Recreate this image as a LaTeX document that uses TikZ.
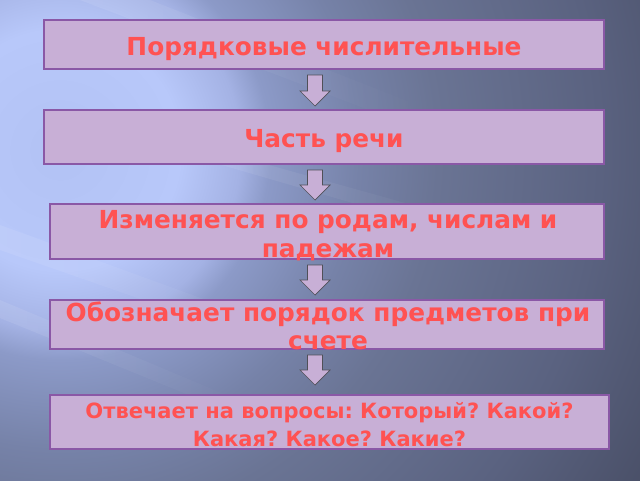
\documentclass[tikz,border=0pt]{standalone}
\usepackage{fontspec}
\setmainfont{DejaVu Sans}
\usetikzlibrary{calc,fadings}
\definecolor{boxfill}{HTML}{C8AFD6}
\definecolor{boxline}{HTML}{8A58A6}
\definecolor{txtred}{HTML}{FF5252}
\definecolor{arrline}{HTML}{505058}
\definecolor{r0}{HTML}{B2C2F4}
\definecolor{r1}{HTML}{B8C8FA}
\definecolor{r2}{HTML}{A4B2E4}
\definecolor{r3}{HTML}{8C9AC8}
\definecolor{r4}{HTML}{7682A8}
\definecolor{r5}{HTML}{6A7494}
\definecolor{r6}{HTML}{5A6280}
\definecolor{r7}{HTML}{4A5068}
\pgfdeclareradialshading{bgrad}{\pgfpoint{0bp}{0bp}}{color(0bp)=(r0); color(4.3bp)=(r1); color(6.45bp)=(r2); color(7.5bp)=(r3); color(10.7bp)=(r4); color(13.5bp)=(r5); color(19.3bp)=(r6); color(23.95bp)=(r7); color(25bp)=(r7); color(50bp)=(r7)}
\begin{document}
\frenchspacing
\begin{tikzpicture}[x=1pt,y=-1pt,
  box/.style={draw=boxline,line width=1.8pt,fill=boxfill,inner sep=0pt,rectangle},
  txt/.style={text=txtred,inner sep=0pt,font=\fontsize{24.8}{29}\selectfont\bfseries},
  txts/.style={text=txtred,inner sep=0pt,font=\fontsize{21}{27}\selectfont\bfseries},
  streak/.style={fill=white,opacity=0.09,path fading=east},
  arr/.style={draw=arrline,line width=0.7pt,fill=boxfill,line join=miter}]
\useasboundingbox (0,0) rectangle (640,480);
\begin{scope}
\clip (0,0) rectangle (640,480);
\fill[r7] (0,0) rectangle (640,480);
\shade[shading=bgrad] (60,150) circle (700);
% light streaks
\fill[streak] (0,225) -- (0,250) -- (330,365) -- (330,345) -- cycle;
\fill[streak] (0,300) -- (0,318) -- (250,420) -- (250,405) -- cycle;
\fill[streak] (170,150) -- (215,150) -- (520,235) -- (480,240) -- cycle;
\fill[streak] (80,0) -- (150,0) -- (430,110) -- (390,118) -- cycle;
\end{scope}
% boxes
\node[box,minimum width=560pt,minimum height=49pt] (b1) at (324,44.5) {};
\node[box,minimum width=560pt,minimum height=54pt] (b2) at (324,137) {};
\node[box,minimum width=554pt,minimum height=55pt] (b3) at (327,231.5) {};
\node[box,minimum width=554pt,minimum height=49pt] (b4) at (327,324.5) {};
\node[box,minimum width=559pt,minimum height=54pt] (b5) at (329.5,422) {};
% texts
\node[txt,anchor=base] (t1) at (324,55) {Порядковые числительные};
\node[txt,anchor=base] (t2) at (324,147) {Часть речи};
\node[txt,anchor=base] (t3a) at (328,228) {Изменяется по родам, числам и};
\node[txt,anchor=base] (t3b) at (328,257) {падежам};
\node[txt,anchor=base] (t4a) at (328,321) {Обозначает порядок предметов при};
\node[txt,anchor=base] (t4b) at (328,349) {счете};
\node[txts,anchor=base] (t5a) at (329.5,418) {Отвечает на вопросы: Который? Какой?};
\node[txts,anchor=base] (t5b) at (329.5,446) {Какая? Какое? Какие?};
% arrows
\coordinate (a1s) at (315,75);  \coordinate (a1e) at (315,106);
\coordinate (a2s) at (315,170); \coordinate (a2e) at (315,200);
\coordinate (a3s) at (315,265); \coordinate (a3e) at (315,295);
\coordinate (a4s) at (315,355); \coordinate (a4e) at (315,385);
\foreach \s/\e in {a1s/a1e,a2s/a2e,a3s/a3e,a4s/a4e}{
  \draw[arr] ($(\s)+(-7.5,0)$) -- ($(\s)+(7.5,0)$) -- ($(\e)+(7.5,-15)$) -- ($(\e)+(15,-15)$)
    -- (\e) -- ($(\e)+(-15,-15)$) -- ($(\e)+(-7.5,-15)$) -- cycle;
}
\end{tikzpicture}
\end{document}
